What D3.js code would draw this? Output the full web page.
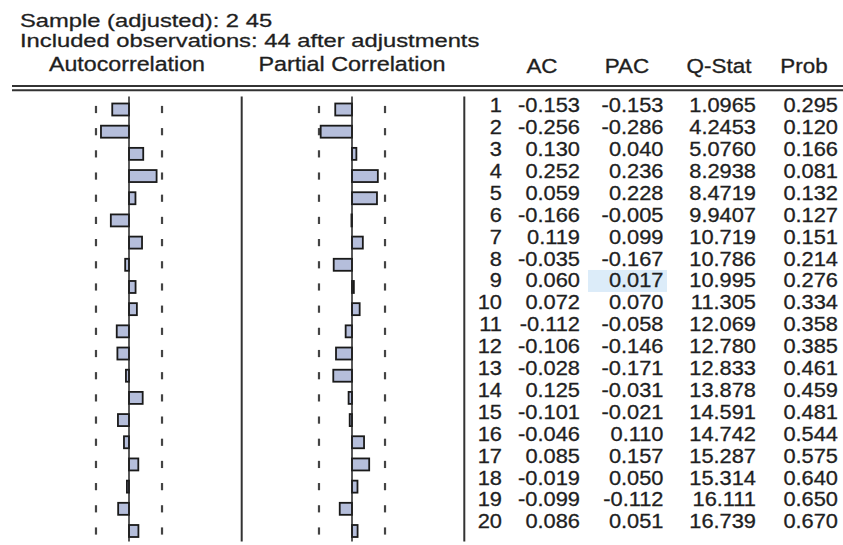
<!DOCTYPE html>
<html>
<head>
<meta charset="utf-8">
<script src="https://cdn.jsdelivr.net/npm/d3@7"></script>
<style>
  html, body { margin: 0; padding: 0; background: #fff; }
  svg { display: block; }
  text { font-family: "Liberation Sans", Arial, sans-serif; fill: #1f1f1f; stroke: #1f1f1f; stroke-width: 0.3px; }
</style>
</head>
<body>
<svg id="chart" width="843" height="545"></svg>
<script>
// Correlogram of a series: autocorrelation and partial autocorrelation by lag
const lags = d3.range(1, 21);
const ac   = [-0.153, -0.256, 0.130, 0.252, 0.059, -0.166, 0.119, -0.035, 0.060, 0.072,
              -0.112, -0.106, -0.028, 0.125, -0.101, -0.046, 0.085, -0.019, -0.099, 0.086];
const pac  = [-0.153, -0.286, 0.040, 0.236, 0.228, -0.005, 0.099, -0.167, 0.017, 0.070,
              -0.058, -0.146, -0.171, -0.031, -0.021, 0.110, 0.157, 0.050, -0.112, 0.051];
const qStat = [1.0965, 4.2453, 5.0760, 8.2938, 8.4719, 9.9407, 10.719, 10.786, 10.995, 11.305,
               12.069, 12.780, 12.833, 13.878, 14.591, 14.742, 15.287, 15.314, 16.111, 16.739];
const prob = [0.295, 0.120, 0.166, 0.081, 0.132, 0.127, 0.151, 0.214, 0.276, 0.334,
              0.358, 0.385, 0.461, 0.459, 0.481, 0.544, 0.575, 0.640, 0.650, 0.670];
const titleLines = ["Sample (adjusted): 2 45", "Included observations: 44 after adjustments"];
const panelHeaders = ["Autocorrelation", "Partial Correlation"];
const columnHeaders = ["AC", "PAC", "Q-Stat", "Prob"];
const nObs = 44;
const selectedLag = 9;   // the highlighted PAC cell

const bound = 2 / Math.sqrt(nObs);

// plain hyphen for negative numbers
const locale = d3.formatLocale({decimal: ".", thousands: ",", grouping: [3], currency: ["$", ""], minus: "-"});
const f3 = locale.format(".3f");
const fq = locale.format(".5g");

const svg = d3.select("#chart");
const W = 843;

// row positions: bars and table text
const yBar  = d3.scalePoint().domain(lags).range([109.5, 531]);
const yText = d3.scalePoint().domain(lags).range([112.3, 528.3]);

// bar scales for the two panels
const halfUnit = 109.5;
const acZero = 129, pacZero = 352;
const xAC  = d3.scaleLinear().domain([-1, 1]).range([acZero - halfUnit, acZero + halfUnit]);
const xPAC = d3.scaleLinear().domain([-1, 1]).range([pacZero - halfUnit, pacZero + halfUnit]);

function stretchedText(g, x, y, str, sx, anchor, size) {
  return g.append("text")
    .attr("transform", `translate(${x},${y}) scale(${sx},1)`)
    .attr("text-anchor", anchor)
    .attr("font-size", size)
    .text(str);
}

// title lines
const head = svg.append("g");
titleLines.forEach((t, i) => stretchedText(head, 20, [26.5, 46.7][i], t, 1.25, "start", 19));
stretchedText(head, acZero - 2, 70.7, panelHeaders[0], 1.19, "middle", 19.5);
stretchedText(head, pacZero, 70.7, panelHeaders[1], 1.2, "middle", 19.5);

const colCenters = [542, 627, 719, 804];
columnHeaders.forEach((t, i) => stretchedText(head, colCenters[i], 72.5, t, 1.15, "middle", 19.5));

// double rule under the headers
[86, 90.3].forEach(y => svg.append("line")
  .attr("x1", 12).attr("x2", W).attr("y1", y).attr("y2", y)
  .attr("stroke", "#333").attr("stroke-width", 2));

// highlighted cell
svg.append("rect")
  .attr("x", 588).attr("width", 79)
  .attr("y", yText(selectedLag) - 17.5).attr("height", 22)
  .attr("fill", "#dcecf9");

// panel separators
[241.7, 464.3].forEach(x => svg.append("line")
  .attr("x1", x).attr("x2", x).attr("y1", 96.5).attr("y2", 541.5)
  .attr("stroke", "#333").attr("stroke-width", 2));

function drawPanel(values, x) {
  const g = svg.append("g");
  // confidence bound dashes
  [-bound, bound].forEach(b => {
    g.selectAll(null).data(lags).join("line")
      .attr("x1", x(b)).attr("x2", x(b))
      .attr("y1", d => yBar(d) - 3.6).attr("y2", d => yBar(d) + 3.6)
      .attr("stroke", "#444").attr("stroke-width", 2.2);
  });
  // bars
  g.selectAll("rect").data(lags).join("rect")
    .attr("x", d => Math.min(x(0), x(values[d - 1])))
    .attr("width", d => Math.abs(x(values[d - 1]) - x(0)))
    .attr("y", d => yBar(d) - 6)
    .attr("height", 12)
    .attr("fill", "#b5bedb")
    .attr("stroke", "#1a1a1a").attr("stroke-width", 1.8);
  // zero axis
  g.append("line")
    .attr("x1", x(0)).attr("x2", x(0)).attr("y1", 96.5).attr("y2", 541.5)
    .attr("stroke", "#222").attr("stroke-width", 1.5);
}
drawPanel(ac, xAC);
drawPanel(pac, xPAC);

// statistics table
const tbl = svg.append("g");
const cols = [
  {right: 502,   fmt: d => String(d),          get: d => d},
  {right: 580,   fmt: f3,                      get: d => ac[d - 1]},
  {right: 663.5, fmt: f3,                      get: d => pac[d - 1]},
  {right: 756,   fmt: fq,                      get: d => qStat[d - 1]},
  {right: 838,   fmt: f3,                      get: d => prob[d - 1]}
];
cols.forEach(c => {
  lags.forEach(d => stretchedText(tbl, c.right, yText(d), c.fmt(c.get(d)), 1.12, "end", 19.5));
});
</script>
</body>
</html>
